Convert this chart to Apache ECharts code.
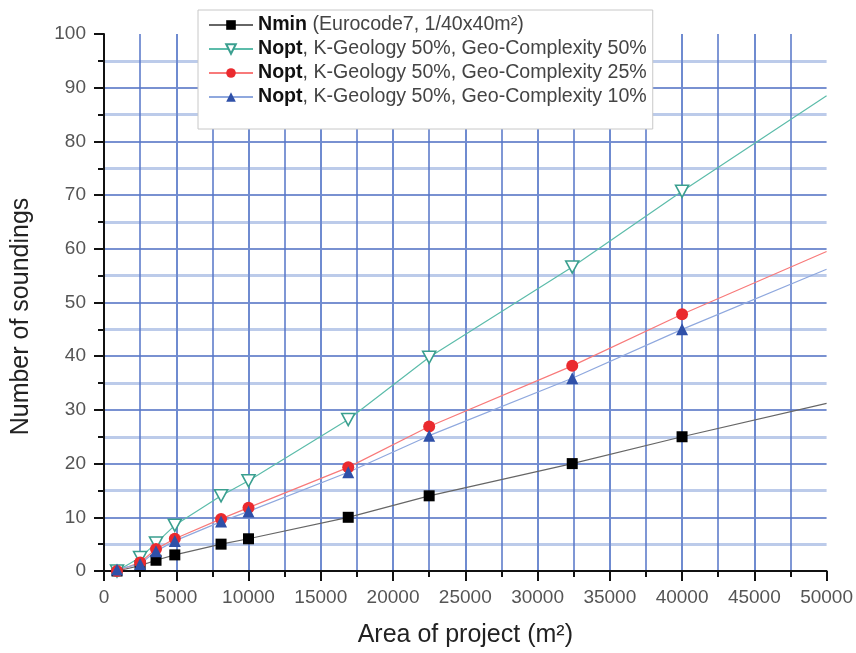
<!DOCTYPE html>
<html><head><meta charset="utf-8">
<script src="https://cdn.jsdelivr.net/npm/echarts@6/dist/echarts.min.js"></script>
<style>html,body{margin:0;padding:0;background:#fff}#c{width:856px;height:653px}</style>
</head><body><div id="c"></div>
<script>
// Project areas (m²) where markers are drawn; the last entry (50000) is the line end without marker
const areas = [900, 2500, 3600, 4900, 8100, 10000, 16900, 22500, 32400, 40000, 50000];
const nmin = [0, 1, 2, 3, 5, 6, 10, 14, 20, 25, 31.2];
const nopt50 = [0, 2.5, 5.2, 8.5, 14, 16.8, 28.2, 39.8, 56.6, 70.7, 88.5];
const nopt25 = [0, 1.6, 4.1, 6.0, 9.7, 11.8, 19.3, 26.9, 38.2, 47.8, 59.5];
const nopt10 = [0.3, 1.3, 3.7, 5.6, 9.2, 11.1, 18.4, 25.2, 35.9, 45.0, 56.2];
const xTicks = [0, 5000, 10000, 15000, 20000, 25000, 30000, 35000, 40000, 45000, 50000];
const yTicks = [0, 10, 20, 30, 40, 50, 60, 70, 80, 90, 100];
const names = ['Nmin', 'Nopt50', 'Nopt25', 'Nopt10'];
const legendText = {
  Nmin: '{b|Nmin} {n|(Eurocode7, 1/40x40m²)}',
  Nopt50: '{b|Nopt}{n|, K-Geology 50%, Geo-Complexity 50%}',
  Nopt25: '{b|Nopt}{n|, K-Geology 50%, Geo-Complexity 25%}',
  Nopt10: '{b|Nopt}{n|, K-Geology 50%, Geo-Complexity 10%}'
};

function build(vals) {
  return areas.map((a, i) => {
    const d = { value: [a, vals[i]] };
    if (i === areas.length - 1) d.symbol = 'none';
    return d;
  });
}

const chart = echarts.init(document.getElementById('c'), null, { renderer: 'canvas' });
const font = 'Liberation Sans, Arial, sans-serif';
chart.setOption({
  animation: false,
  backgroundColor: '#fff',
  textStyle: { fontFamily: font },
  grid: { left: 104, right: 28, top: 34, bottom: 81 },
  legend: {
    orient: 'vertical',
    left: 198, top: 10,
    backgroundColor: '#fff',
    borderColor: '#c8c8c8', borderWidth: 1,
    padding: [5, 6, 22, 10],
    itemWidth: 44, itemHeight: 12, itemGap: 4,
    data: names,
    formatter: n => legendText[n],
    textStyle: {
      fontFamily: font, fontSize: 19.6, lineHeight: 20, color: '#444',
      rich: {
        b: { fontWeight: 'bold', fontSize: 19.6, lineHeight: 20, color: '#111', fontFamily: font },
        n: { fontSize: 19.6, lineHeight: 20, color: '#444', fontFamily: font }
      }
    }
  },
  xAxis: {
    type: 'value', min: 0, max: 50000, interval: 5000,
    name: 'Area of project (m²)', nameLocation: 'middle', nameGap: 52,
    nameTextStyle: { fontSize: 25, color: '#222', fontFamily: font },
    axisLine: { show: true, onZero: false, lineStyle: { color: '#111', width: 2 } },
    axisTick: { show: true, length: 10, inside: false, lineStyle: { color: '#111', width: 2 } },
    minorTick: { show: true, splitNumber: 2, length: 6, lineStyle: { color: '#111', width: 2 } },
    axisLabel: { fontSize: 19, color: '#555', margin: 17, fontFamily: font, formatter: v => String(v) },
    splitLine: { show: true, showMinLine: false, showMaxLine: false, lineStyle: { color: '#6f8bd0', width: 2 } },
    minorSplitLine: { show: true, lineStyle: { color: '#5675c8', width: 1.5 } }
  },
  yAxis: {
    type: 'value', min: 0, max: 100, interval: 10,
    name: 'Number of soundings', nameLocation: 'middle', nameGap: 70, nameRotate: 90,
    nameTextStyle: { fontSize: 25, color: '#222', fontFamily: font, padding: [0, 28, 0, 0] },
    axisLine: { show: true, lineStyle: { color: '#111', width: 2 } },
    axisTick: { show: true, length: 10, lineStyle: { color: '#111', width: 2 } },
    minorTick: { show: true, splitNumber: 2, length: 6, lineStyle: { color: '#111', width: 2 } },
    axisLabel: { fontSize: 19, color: '#555', margin: 18, fontFamily: font },
    splitLine: { show: true, showMinLine: false, showMaxLine: false, lineStyle: { color: '#4d6cc2', width: 1.5 } },
    minorSplitLine: { show: true, lineStyle: { color: '#bccbea', width: 3 } }
  },
  series: [
    {
      name: 'Nmin', type: 'line', data: build(nmin),
      symbol: 'rect', symbolSize: 11,
      lineStyle: { color: '#666', width: 1.2 },
      itemStyle: { color: '#000' }
    },
    {
      name: 'Nopt50', type: 'line', data: build(nopt50),
      symbol: 'path://M0,0 L10,0 L5,9 Z', symbolSize: [13, 12], symbolKeepAspect: false,
      lineStyle: { color: '#5cbcaa', width: 1.2 },
      itemStyle: { color: '#fff', borderColor: '#3a9f8f', borderWidth: 1.6 }
    },
    {
      name: 'Nopt25', type: 'line', data: build(nopt25),
      symbol: 'circle', symbolSize: 12,
      lineStyle: { color: '#f87a7a', width: 1.2 },
      itemStyle: { color: '#ea2a2e' }
    },
    {
      name: 'Nopt10', type: 'line', data: build(nopt10),
      symbol: 'triangle', symbolSize: 12,
      lineStyle: { color: '#8fa8de', width: 1.2 },
      itemStyle: { color: '#2f50a8' }
    }
  ]
});
</script></body></html>
